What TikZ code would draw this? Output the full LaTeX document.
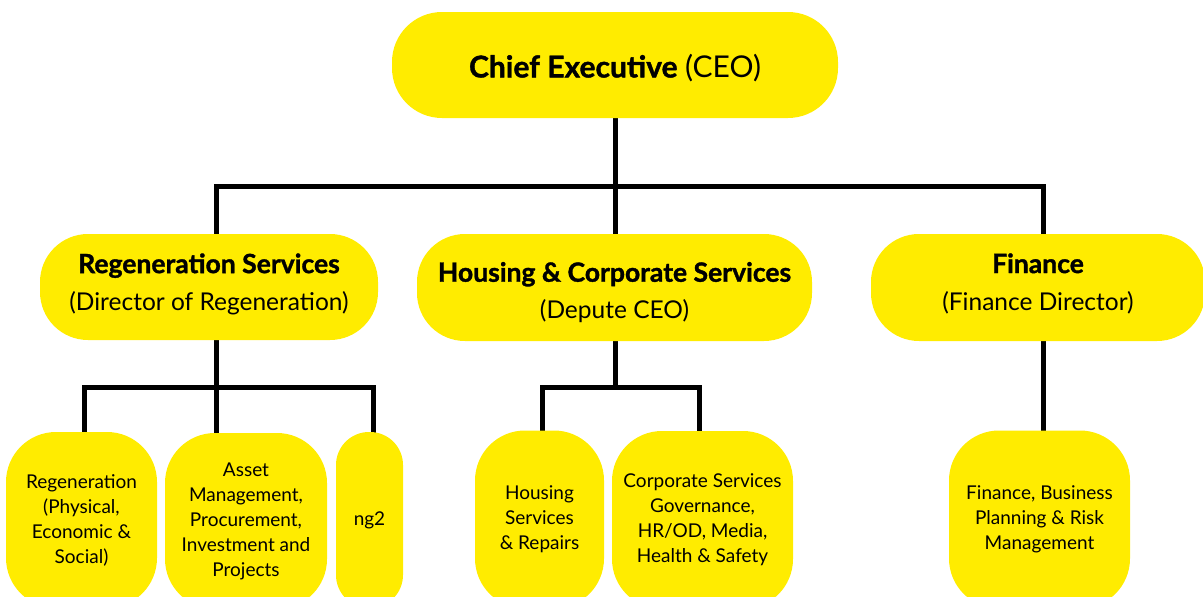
\documentclass[tikz,border=0pt]{standalone}
\usepackage{fontspec}
\setmainfont{Lato}[BoldFeatures={FakeBold=1.3}]
\usetikzlibrary{backgrounds}
\definecolor{orgyellow}{HTML}{FFEC00}
\newcommand{\headline}[1]{{\fontsize{26.5}{37}\selectfont\bfseries #1}}
\tikzset{
  orgbox/.style={fill=orgyellow, draw=none, rounded corners=#1, align=center,
    inner sep=0pt, text=black},
  orgbox/.default=45pt,
  % the caption of a box, set on its centre and nudged up or down
  caption/.style={align=center, inner sep=0pt, text=black},
  toplevel/.style={orgbox=50pt},
  toptext/.style={caption, font=\fontsize{30}{36}\selectfont},
  midlevel/.style={orgbox=48pt},
  midtext/.style={caption, font=\fontsize{24.5}{37}\selectfont},
  lowlevel/.style={orgbox=#1, font=\fontsize{19}{25}\selectfont},
  lowlevel/.default=50pt,
  link/.style={line width=5pt, draw=black, line cap=rect}
}
\begin{document}
\begin{tikzpicture}[x=1pt,y=-1pt]
\useasboundingbox (0,0) rectangle (1203,597);
\clip (0,0) rectangle (1203,597);

% top level
\node[toplevel, minimum width=446pt, minimum height=106pt,
  label={[toptext, yshift=-3pt]center:{\textbf{Chief Executive} (CEO)}}]
  (ceo) at (615,65) {};

% directors
\node[midlevel, minimum width=338pt, minimum height=106pt,
  label={[midtext, yshift=3pt]center:{\headline{Regeneration Services}\\(Director of Regeneration)}}]
  (regen) at (209,287) {};
\node[midlevel, minimum width=395pt, minimum height=107pt,
  label={[midtext, yshift=-5pt]center:{\headline{Housing \& Corporate Services}\\(Depute CEO)}}]
  (housing) at (614.5,287.5) {};
\node[midlevel, minimum width=334pt, minimum height=107pt,
  label={[midtext, yshift=4pt]center:{\headline{Finance}\\(Finance Director)}}]
  (finance) at (1038,287.5) {};

% services
\node[lowlevel, minimum width=151pt, minimum height=176pt] (r1) at (81.5,520)
  {Regeneration\\(Physical,\\Economic \&\\Social)};
\node[lowlevel, minimum width=162pt, minimum height=176pt] (r2) at (246,521)
  {Asset\\Management,\\Procurement,\\Investment and\\Projects};
\node[lowlevel=33pt, minimum width=67pt, minimum height=176pt] (r3) at (369.5,520)
  {ng2};
\node[lowlevel, minimum width=129pt, minimum height=178pt] (h1) at (539.5,519.5)
  {Housing\\Services\\\& Repairs};
\node[lowlevel, minimum width=181pt, minimum height=178pt] (h2) at (702.5,520)
  {Corporate Services\\Governance,\\HR/OD, Media,\\Health \& Safety};
\node[lowlevel, minimum width=181pt, minimum height=178pt] (f1) at (1039.5,519.5)
  {Finance, Business\\Planning \& Risk\\Management};

% bus junctions
\coordinate (busL) at (216,186);
\coordinate (busM) at (615,186);
\coordinate (busR) at (1043,186);
\coordinate (rbusM) at (216,387);
\coordinate (rbusL) at (84,387);
\coordinate (rbusR) at (373,387);
\coordinate (hbusM) at (615,387);
\coordinate (hbusL) at (542,387);
\coordinate (hbusR) at (699,387);
\coordinate (fdrop) at (1043,360);

\begin{scope}[on background layer]
  \draw[link] (ceo.center) -- (busM);
  \draw[link] (busL) -- (busR);
  \draw[link] (busL) -- (busL |- regen.center);
  \draw[link] (busM) -- (busM |- housing.center);
  \draw[link] (busR) -- (busR |- finance.center);

  \draw[link] (rbusM |- regen.center) -- (rbusM);
  \draw[link] (rbusL) -- (rbusR);
  \draw[link] (rbusL) -- (rbusL |- r1.center);
  \draw[link] (rbusM) -- (rbusM |- r2.center);
  \draw[link] (rbusR) -- (rbusR |- r3.center);

  \draw[link] (hbusM |- housing.center) -- (hbusM);
  \draw[link] (hbusL) -- (hbusR);
  \draw[link] (hbusL) -- (hbusL |- h1.center);
  \draw[link] (hbusR) -- (hbusR |- h2.center);

  \draw[link] (fdrop |- finance.center) -- (fdrop |- f1.center);
\end{scope}
\end{tikzpicture}
\end{document}
